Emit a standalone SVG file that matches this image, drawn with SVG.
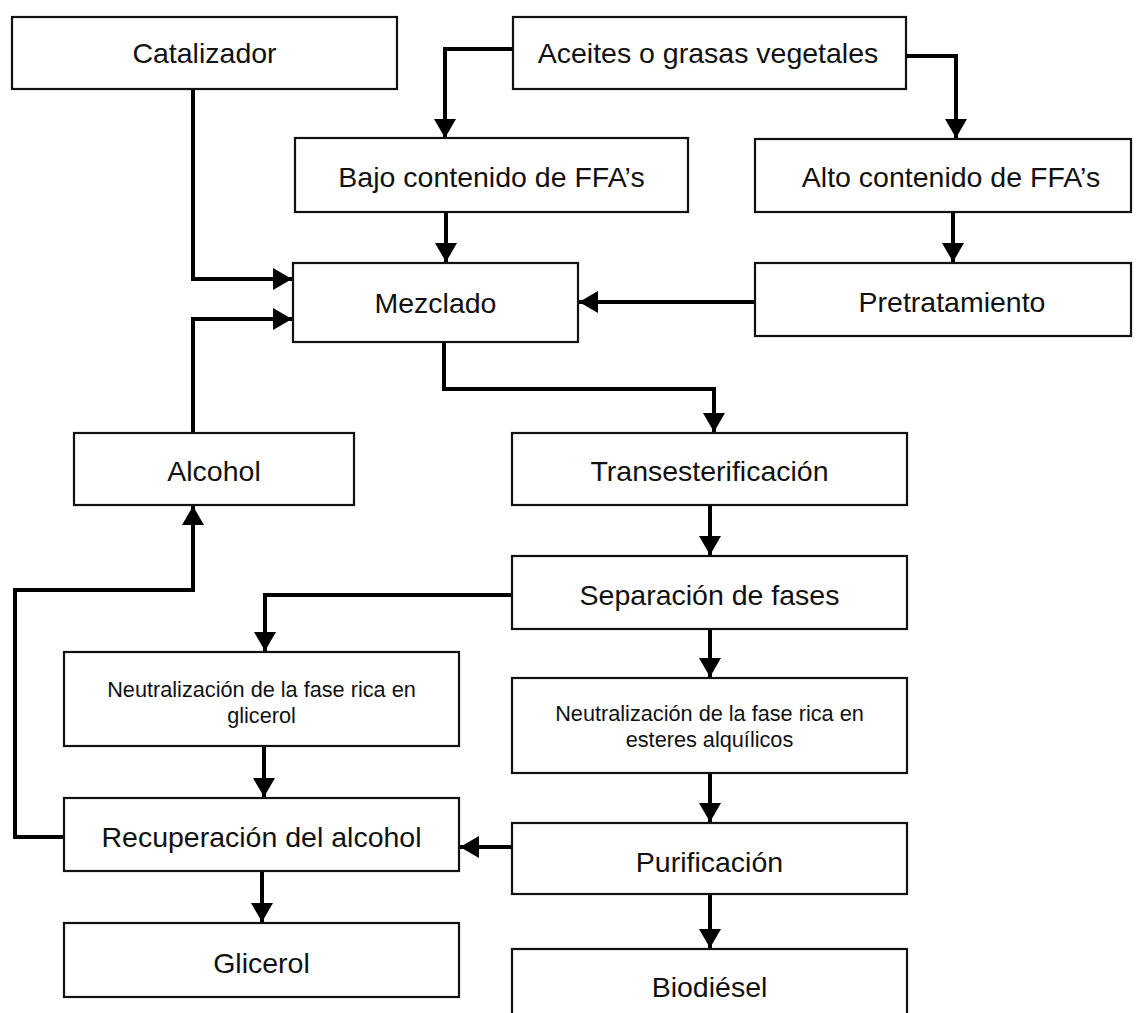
<svg xmlns="http://www.w3.org/2000/svg" width="1138" height="1013" viewBox="0 0 1138 1013">
<style>
.box{fill:#fff;stroke:#111;stroke-width:2.2}
.t{font-family:"Liberation Sans",Arial,sans-serif;font-size:28.5px;fill:#111;text-anchor:middle}
.s{font-family:"Liberation Sans",Arial,sans-serif;font-size:21.7px;fill:#111;text-anchor:middle}
.c{fill:none;stroke:#000;stroke-width:4;marker-end:url(#ah)}
</style>
<defs>
<marker id="ah" markerUnits="userSpaceOnUse" markerWidth="24" markerHeight="24" viewBox="0 0 20 24" refX="19" refY="12" orient="auto">
<path d="M0,1 L19,12 L0,23 Z" fill="#000"/>
</marker>
</defs>
<rect width="1138" height="1013" fill="#fff"/>
<g id="connectors">
<path class="c" d="M193,89 V279 H292"/>
<path class="c" d="M513,49 H445 V138"/>
<path class="c" d="M906,56 H956 V138"/>
<path class="c" d="M446,212 V262"/>
<path class="c" d="M953,212 V262"/>
<path class="c" d="M755,302 H579"/>
<path class="c" d="M193,433 V319 H292"/>
<path class="c" d="M444,342 V389 H714 V432"/>
<path class="c" d="M710,505 V555"/>
<path class="c" d="M512,595 H265 V651"/>
<path class="c" d="M710,629 V677"/>
<path class="c" d="M710,773 V822"/>
<path class="c" d="M512,847 H460"/>
<path class="c" d="M710,894 V948"/>
<path class="c" d="M264,746 V797"/>
<path class="c" d="M262,871 V922"/>
<path class="c" d="M64,837 H15 V590 H193 V506"/>
</g>
<g id="catalizador"><rect class="box" x="12" y="17" width="385" height="72"/><text class="t" x="204.5" y="63">Catalizador</text></g>
<g id="aceites"><rect class="box" x="513" y="17" width="393" height="72"/><text class="t" x="708" y="63">Aceites o grasas vegetales</text></g>
<g id="bajo"><rect class="box" x="295" y="138" width="393" height="74"/><text class="t" x="491.5" y="187">Bajo contenido de FFA’s</text></g>
<g id="alto"><rect class="box" x="755" y="139" width="376" height="73"/><text class="t" x="951" y="187">Alto contenido de FFA’s</text></g>
<g id="mezclado"><rect class="box" x="293" y="263" width="285" height="79"/><text class="t" x="435.5" y="313">Mezclado</text></g>
<g id="pretratamiento"><rect class="box" x="755" y="263" width="376" height="73"/><text class="t" x="952" y="312">Pretratamiento</text></g>
<g id="alcohol"><rect class="box" x="74" y="433" width="280" height="72"/><text class="t" x="214" y="481">Alcohol</text></g>
<g id="transesterificacion"><rect class="box" x="512" y="433" width="395" height="72"/><text class="t" x="709.5" y="481">Transesterificación</text></g>
<g id="separacion"><rect class="box" x="512" y="556" width="395" height="73"/><text class="t" x="709.5" y="605">Separación de fases</text></g>
<g id="neut-glicerol"><rect class="box" x="64" y="652" width="395" height="94"/><text class="s" x="261.5" y="697">Neutralización de la fase rica en</text><text class="s" x="261.5" y="723">glicerol</text></g>
<g id="neut-esteres"><rect class="box" x="512" y="678" width="395" height="95"/><text class="s" x="709.5" y="721">Neutralización de la fase rica en</text><text class="s" x="709.5" y="747">esteres alquílicos</text></g>
<g id="recuperacion"><rect class="box" x="64" y="798" width="395" height="73"/><text class="t" x="261.5" y="847">Recuperación del alcohol</text></g>
<g id="purificacion"><rect class="box" x="512" y="823" width="395" height="71"/><text class="t" x="709.5" y="872">Purificación</text></g>
<g id="glicerol"><rect class="box" x="64" y="923" width="395" height="74"/><text class="t" x="261.5" y="973">Glicerol</text></g>
<g id="biodiesel"><rect class="box" x="512" y="949" width="395" height="80"/><text class="t" x="709.5" y="997">Biodiésel</text></g>
</svg>
